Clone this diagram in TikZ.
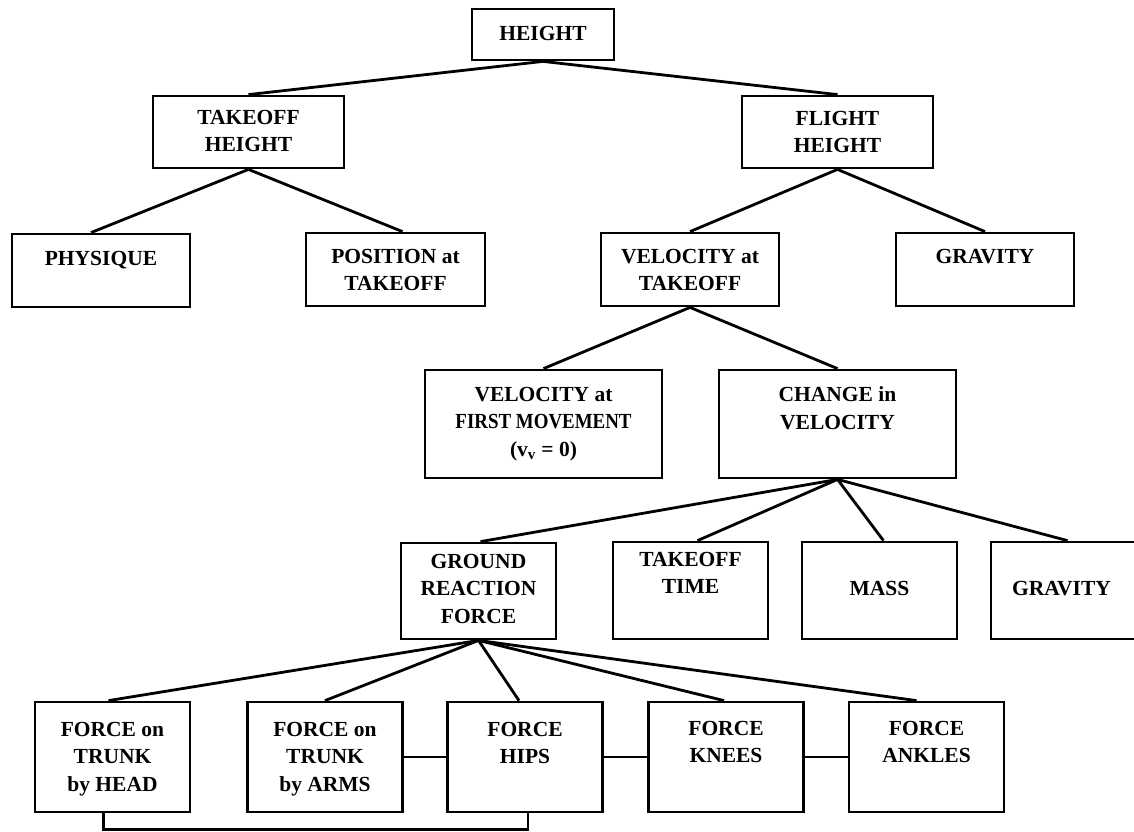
\documentclass[tikz,border=0pt]{standalone}
\usepackage{fontspec}
\usepackage{graphicx}
\setmainfont{Liberation Serif}
\usetikzlibrary{positioning}
\newcommand{\BoxFont}{\bfseries\fontsize{21.5}{27.5}\selectfont}

\begin{document}
\begin{tikzpicture}[x=1pt,y=-1pt,
        box/.style={draw,line width=2.8pt,inner sep=0pt,minimum width=155pt},
        txt/.style={inner sep=0pt,align=center,font=\BoxFont},
        link/.style={line width=2.8pt}]
                \clip (0,0) rectangle (1134,831);

                % boxes, text hangs from the top edge
                \node[box,minimum width=142pt,minimum height=51pt] (height) at (543,34.5) {};
                \node[txt,below=18pt of height.north] (height-t) {HEIGHT};

                \node[box,minimum width=191pt,minimum height=72pt] (tkh) at (248.5,132) {};
                \node[txt,below=15pt of tkh.north] (tkh-t) {TAKEOFF\\HEIGHT};
                \node[box,minimum width=191pt,minimum height=72pt] (flh) at (837.5,132) {};
                \node[txt,below=16pt of flh.north] (flh-t) {FLIGHT\\HEIGHT};

                \node[box,minimum width=178pt,minimum height=73pt] (phys) at (101,270.5) {};
                \node[txt,below=18pt of phys.north] (phys-t) {PHYSIQUE};
                \node[box,minimum width=179pt,minimum height=73pt] (pos) at (395.5,269.5) {};
                \node[txt,below=17pt of pos.north] (pos-t) {POSITION at\\TAKEOFF};
                \node[box,minimum width=178pt,minimum height=73pt] (vto) at (690,269.5) {};
                \node[txt,below=17pt of vto.north] (vto-t) {VELOCITY at\\TAKEOFF};
                \node[box,minimum width=178pt,minimum height=73pt] (grav) at (985,269.5) {};
                \node[txt,below=17pt of grav.north] (grav-t) {GRAVITY};

                \node[box,minimum width=237pt,minimum height=108pt] (vfm) at (543.5,424) {};
                \node[txt,below=18pt of vfm.north] (vfm-t)
                    {VELOCITY at\\\scalebox{0.88}[1]{FIRST MOVEMENT}\\(v\textsubscript{v} = 0)};
                \node[box,minimum width=237pt,minimum height=108pt] (chv) at (837.5,424) {};
                \node[txt,below=18pt of chv.north] (chv-t) {CHANGE in\\VELOCITY};

                \node[box,minimum height=96pt] (grf) at (478.5,591) {};
                \node[txt,below=12pt of grf.north] (grf-t) {GROUND\\REACTION\\FORCE};
                \node[box,minimum height=97pt] (tot) at (690.5,590.5) {};
                \node[txt,below=11pt of tot.north] (tot-t) {TAKEOFF\\TIME};
                \node[box,minimum height=97pt] (mass) at (879.5,590.5) {};
                \node[txt,below=40pt of mass.north] (mass-t) {MASS};
                \node[box,minimum height=97pt] (grav2) at (1068.5,590.5) {};
                \node[txt,below=40pt of grav2.north,xshift=-7pt] (grav2-t) {GRAVITY};

                \node[box,minimum height=110pt] (head) at (112.5,757) {};
                \node[txt,below=21pt of head.north] (head-t) {FORCE on\\TRUNK\\by HEAD};
                \node[box,minimum height=110pt] (arms) at (325,757) {};
                \node[txt,below=21pt of arms.north] (arms-t) {FORCE on\\TRUNK\\by ARMS};
                \node[box,minimum height=110pt] (hips) at (525,757) {};
                \node[txt,below=21pt of hips.north] (hips-t) {FORCE\\HIPS};
                \node[box,minimum height=110pt] (knees) at (726,757) {};
                \node[txt,below=20pt of knees.north] (knees-t) {FORCE\\KNEES};
                \node[box,minimum height=110pt] (ankles) at (926.5,757) {};
                \node[txt,below=20pt of ankles.north] (ankles-t) {FORCE\\ANKLES};

                % tree
                \draw[link] (height.south) -- (tkh.north);
                \draw[link] (height.south) -- (flh.north);
                \draw[link] (tkh.south) -- ([xshift=-10pt]phys.north);
                \draw[link] (tkh.south) -- ([xshift=7pt]pos.north);
                \draw[link] (flh.south) -- (vto.north);
                \draw[link] (flh.south) -- (grav.north);
                \draw[link] (vto.south) -- (vfm.north);
                \draw[link] (vto.south) -- (chv.north);
                \draw[link] (chv.south) -- ([xshift=2pt]grf.north);
                \draw[link] (chv.south) -- ([xshift=7pt]tot.north);
                \draw[link] (chv.south) -- ([xshift=4pt]mass.north);
                \draw[link] (chv.south) -- ([xshift=-1pt]grav2.north);
                \draw[link] (grf.south) -- ([xshift=-4pt]head.north);
                \draw[link] (grf.south) -- (arms.north);
                \draw[link] (grf.south) -- ([xshift=-6pt]hips.north);
                \draw[link] (grf.south) -- ([xshift=-2pt]knees.north);
                \draw[link] (grf.south) -- ([xshift=-10pt]ankles.north);

                % joints
                \draw[link] (arms.east) -- (hips.west);
                \draw[link] (hips.east) -- (knees.west);
                \draw[link] (knees.east) -- (ankles.west);
                \draw[link] ([xshift=-9pt]head.south) -- ++(0,16) -| ([xshift=3pt]hips.south);
            \end{tikzpicture}
\end{document}
